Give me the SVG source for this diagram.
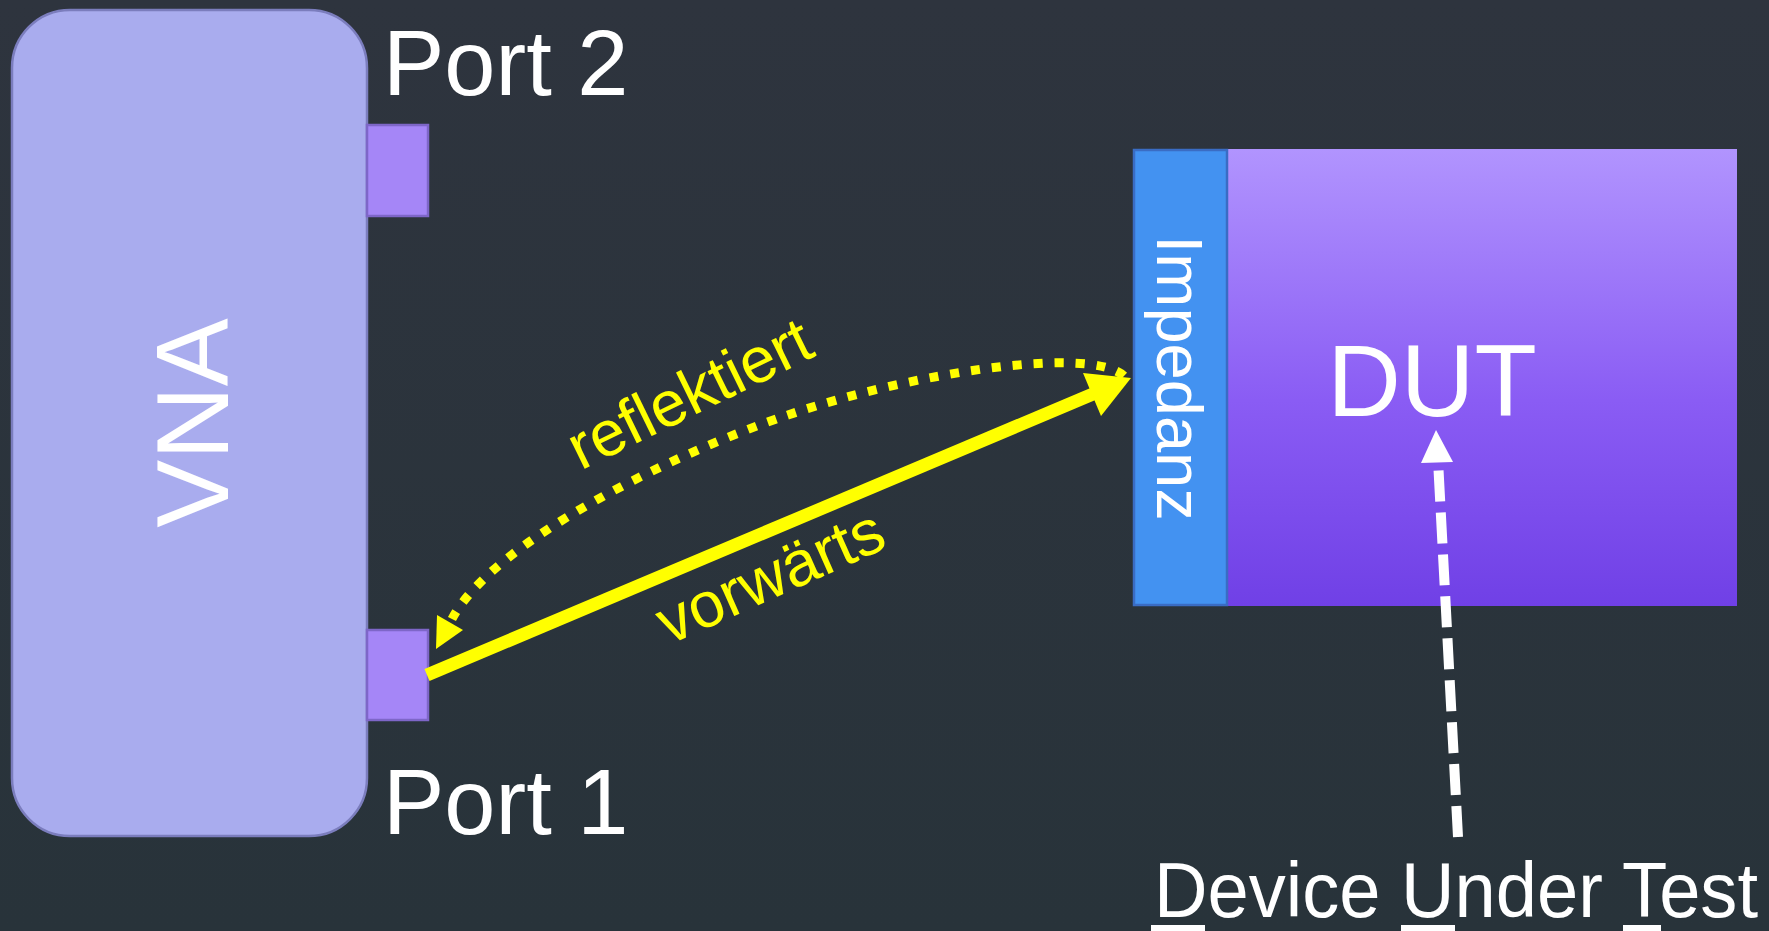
<svg xmlns="http://www.w3.org/2000/svg" width="1769" height="931" viewBox="0 0 1769 931">
  <defs>
    <linearGradient id="bg" x1="0" y1="0" x2="0" y2="1">
      <stop offset="0" stop-color="#2e343e"/>
      <stop offset="1" stop-color="#28333a"/>
    </linearGradient>
    <linearGradient id="dutGrad" x1="0" y1="0" x2="0" y2="1">
      <stop offset="0" stop-color="#b194fe"/>
      <stop offset="0.55" stop-color="#8a5cf4"/>
      <stop offset="1" stop-color="#7040e6"/>
    </linearGradient>
    <style>
      .lbl { font-family: "Liberation Sans", Arial, sans-serif; fill: #ffffff; }
      .ylbl { font-family: "Liberation Sans", Arial, sans-serif; fill: #ffff00; font-size: 64px; }
      .port { fill: #a586f7; stroke: #7e66c8; stroke-width: 2.5; }
      .yellow { stroke: #ffff00; fill: none; }
    </style>
  </defs>

  <rect x="0" y="0" width="1769" height="931" fill="url(#bg)"/>

  <g id="vna">
    <rect x="12" y="10" width="355" height="826" rx="58" ry="58" fill="#a9acee" stroke="#7b7dbd" stroke-width="2.5"/>
    <text class="lbl" font-size="102" text-anchor="middle" transform="translate(228,423) rotate(-90)">VNA</text>
  </g>

  <g id="port2">
    <rect class="port" x="367" y="125" width="61" height="91"/>
    <text class="lbl" x="383" y="95" font-size="92">Port 2</text>
  </g>

  <g id="port1">
    <rect class="port" x="367" y="630" width="61" height="90"/>
    <text class="lbl" x="383" y="834" font-size="92">Port 1</text>
  </g>

  <g id="dut">
    <rect x="1227" y="149" width="510" height="457" fill="url(#dutGrad)"/>
    <text class="lbl" x="1432" y="416" font-size="102" text-anchor="middle">DUT</text>
  </g>

  <g id="impedanz">
    <rect x="1134" y="150" width="93" height="455" fill="#4392f1" stroke="#3a6cc4" stroke-width="2.5"/>
    <text class="lbl" font-size="65" text-anchor="middle" transform="translate(1157,378) rotate(90)">Impedanz</text>
  </g>

  <g id="device-under-test">
    <text class="lbl" x="1154" y="917" font-size="77" textLength="604" lengthAdjust="spacingAndGlyphs">Device Under Test</text>
    <rect x="1151" y="925" width="54" height="6" fill="#ffffff"/>
    <rect x="1401" y="925" width="54" height="6" fill="#ffffff"/>
    <rect x="1623" y="925" width="38" height="6" fill="#ffffff"/>
  </g>

  <g id="connectors">
    <!-- forward (solid) -->
    <line class="yellow" x1="427" y1="675" x2="1093" y2="394" stroke-width="13"/>
    <polygon points="1131,378 1101,416 1083,373" fill="#ffff00"/>
    <text class="ylbl" text-anchor="middle" transform="translate(779,596) rotate(-24)">vorwärts</text>

    <!-- reflected (dotted) -->
    <path class="yellow" d="M1124,376 C1090,345 911,373 788,415 C674,453 492,542 452,619" stroke-width="9" stroke-dasharray="9 12"/>
    <polygon points="436,649 437,615 463,630" fill="#ffff00"/>
    <text class="ylbl" text-anchor="middle" transform="translate(699,413) rotate(-26)">reflektiert</text>

    <!-- device under test pointer (dashed) -->
    <line x1="1458" y1="837" x2="1438" y2="460" stroke="#ffffff" stroke-width="10" stroke-dasharray="31 11"/>
    <polygon points="1436,430 1421,463 1453,462" fill="#ffffff"/>
  </g>
</svg>
